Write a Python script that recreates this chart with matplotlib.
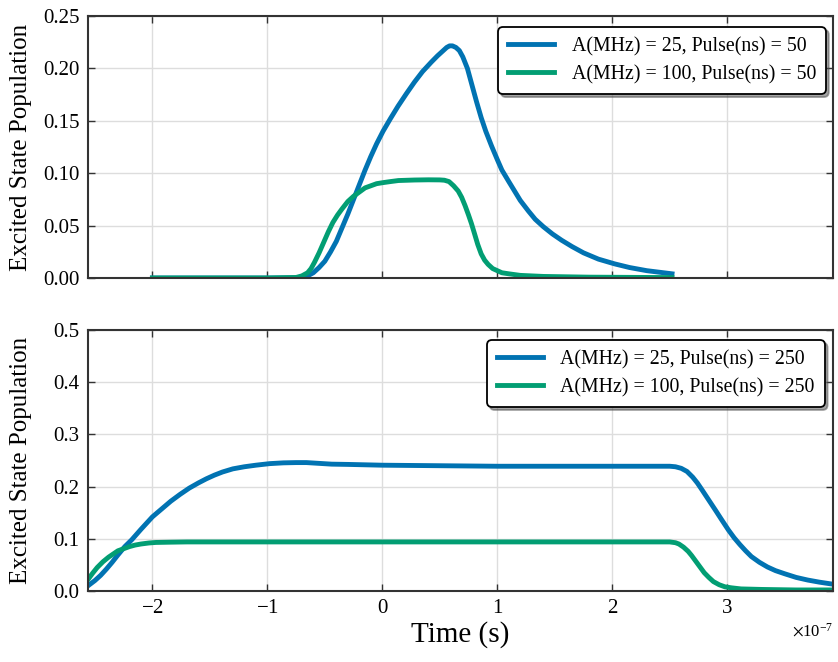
import matplotlib
matplotlib.use("Agg")
import matplotlib.pyplot as plt
import numpy as np

# time values in units of 1e-7 s
t_top_25 = [-2.0, -1.5, -1.0, -0.75, -0.7, -0.65, -0.6, -0.55, -0.5, -0.45, -0.4, -0.35, -0.3, -0.25, -0.2,
            -0.15, -0.1, -0.05, 0.006, 0.07, 0.137, 0.21, 0.28, 0.35, 0.426, 0.48, 0.53, 0.56, 0.585, 0.61,
            0.64, 0.67, 0.7, 0.74, 0.78, 0.82, 0.86, 0.9, 0.95, 1.0, 1.04, 1.1, 1.15, 1.2, 1.27, 1.33, 1.4,
            1.48, 1.56, 1.65, 1.75, 1.88, 2.02, 2.15, 2.3, 2.52]
p_top_25 = [0.0, 0.0, 0.0, 0.0002, 0.0005, 0.002, 0.005, 0.010, 0.016, 0.025, 0.035, 0.048, 0.061, 0.075, 0.089,
            0.103, 0.116, 0.128, 0.140, 0.152, 0.164, 0.176, 0.187, 0.197, 0.206, 0.212, 0.217, 0.220, 0.2215, 0.2215,
            0.220, 0.217, 0.211, 0.200, 0.184, 0.168, 0.153, 0.140, 0.126, 0.113, 0.103, 0.092, 0.083, 0.074, 0.064, 0.056, 0.049,
            0.042, 0.036, 0.030, 0.024, 0.018, 0.0135, 0.010, 0.007, 0.004]

t_top_100 = [-2.0, -1.5, -1.0, -0.75, -0.7, -0.65, -0.62, -0.59, -0.55, -0.51, -0.47, -0.43, -0.39, -0.35, -0.3,
             -0.25, -0.2, -0.15, -0.1, -0.05, 0.006, 0.07, 0.14, 0.28, 0.4, 0.5, 0.54, 0.58, 0.62, 0.66,
             0.69, 0.72, 0.75, 0.775, 0.8, 0.83, 0.86, 0.89, 0.92, 0.96, 1.0, 1.04, 1.1, 1.2, 1.4, 1.8, 2.52]
p_top_100 = [0.0, 0.0, 0.0, 0.0005, 0.002, 0.005, 0.009, 0.015, 0.024, 0.034, 0.044, 0.053, 0.060, 0.066, 0.073,
             0.078, 0.082, 0.086, 0.088, 0.090, 0.091, 0.092, 0.093, 0.0935, 0.0937, 0.0936, 0.0933, 0.092, 0.088, 0.083,
             0.077, 0.069, 0.060, 0.052, 0.043, 0.032, 0.023, 0.017, 0.013, 0.009, 0.007, 0.005, 0.004, 0.0025, 0.0015, 0.0008, 0.0004]

t_bot_25 = [-2.56, -2.5, -2.45, -2.4, -2.35, -2.3, -2.24, -2.18, -2.1, -2.05, -2.0, -1.92, -1.84, -1.76, -1.68,
            -1.6, -1.53, -1.46, -1.39, -1.3, -1.2, -1.1, -0.98, -0.86, -0.75, -0.66, -0.55, -0.44, -0.3, -0.2,
            0.0, 0.5, 1.0, 1.5, 2.0, 2.5, 2.55, 2.6, 2.65, 2.7, 2.74, 2.78, 2.84, 2.9, 2.95, 3.01, 3.06, 3.11,
            3.16, 3.21, 3.28, 3.35, 3.42, 3.5, 3.6, 3.7, 3.8, 3.92]
p_bot_25 = [0.010, 0.020, 0.030, 0.042, 0.055, 0.069, 0.085, 0.098, 0.118, 0.130, 0.142, 0.157, 0.172, 0.185, 0.197,
            0.207, 0.215, 0.222, 0.228, 0.234, 0.238, 0.241, 0.244, 0.2455, 0.246, 0.246, 0.2445, 0.243, 0.2425, 0.242,
            0.241, 0.240, 0.239, 0.239, 0.239, 0.239, 0.238, 0.235, 0.229, 0.218, 0.207, 0.194, 0.174, 0.154, 0.137, 0.117, 0.102, 0.089,
            0.077, 0.066, 0.055, 0.046, 0.039, 0.033, 0.026, 0.021, 0.017, 0.013]

t_bot_100 = [-2.56, -2.52, -2.48, -2.43, -2.38, -2.34, -2.3, -2.25, -2.2, -2.15, -2.1, -2.03, -1.97, -1.85, -1.7,
             -1.0, 0.0, 1.0, 2.0, 2.5, 2.55, 2.58, 2.62, 2.66, 2.69, 2.72, 2.76, 2.8, 2.84, 2.88, 2.93, 2.98,
             3.04, 3.12, 3.3, 3.6, 3.92]
p_bot_100 = [0.022, 0.034, 0.045, 0.056, 0.065, 0.071, 0.077, 0.081, 0.085, 0.088, 0.090, 0.092, 0.093, 0.0935, 0.094,
             0.094, 0.094, 0.094, 0.094, 0.094, 0.0925, 0.090, 0.084, 0.076, 0.068, 0.059, 0.047, 0.035, 0.026, 0.018, 0.012, 0.008,
             0.006, 0.004, 0.003, 0.002, 0.002]

labels_top = ["A(MHz) = 25, Pulse(ns) = 50", "A(MHz) = 100, Pulse(ns) = 50"]
labels_bot = ["A(MHz) = 25, Pulse(ns) = 250", "A(MHz) = 100, Pulse(ns) = 250"]

blue = "#0173B2"
green = "#029E73"

plt.rcParams["font.family"] = ["Liberation Serif", "DejaVu Serif"]
plt.rcParams["mathtext.fontset"] = "stix"
plt.rcParams["axes.unicode_minus"] = True

fig = plt.figure(figsize=(8.38, 6.62), dpi=100)
ax1 = fig.add_axes([88 / 838, 1 - 278 / 662, 745 / 838, 262 / 662])
ax2 = fig.add_axes([88 / 838, 1 - 591 / 662, 745 / 838, 261 / 662], sharex=ax1)

scale = 1e-7
ax1.plot(np.array(t_top_25) * scale, p_top_25, color=blue, lw=3.5, label=labels_top[0])
ax1.plot(np.array(t_top_100) * scale, p_top_100, color=green, lw=3.5, label=labels_top[1])
ax2.plot(np.array(t_bot_25) * scale, p_bot_25, color=blue, lw=3.5, label=labels_bot[0])
ax2.plot(np.array(t_bot_100) * scale, p_bot_100, color=green, lw=3.5, label=labels_bot[1])

ax1.set_ylim(0, 0.25)
ax1.set_yticks([0, 0.05, 0.10, 0.15, 0.20, 0.25])
ax1.set_yticklabels(["0.00", "0.05", "0.10", "0.15", "0.20", "0.25"])
ax2.set_ylim(0, 0.5)
ax2.set_yticks([0, 0.1, 0.2, 0.3, 0.4, 0.5])
ax2.set_yticklabels(["0.0", "0.1", "0.2", "0.3", "0.4", "0.5"])
ax2.set_xlim(-2.56e-7, 3.92e-7)
ax2.set_xticks(np.array([-2, -1, 0, 1, 2, 3]) * scale)
ax2.ticklabel_format(axis="x", style="sci", scilimits=(0, 0), useMathText=True)
plt.setp(ax1.get_xticklabels(), visible=False)
ax1.xaxis.get_offset_text().set_visible(False)

for ax in (ax1, ax2):
    ax.grid(True, color="#dddddd", lw=1.0)
    ax.set_axisbelow(True)
    ax.tick_params(direction="in", top=True, right=True, length=5, width=1.0,
                   labelsize=15, pad=6, colors="#333333", labelcolor="black")
    for s in ax.spines.values():
        s.set_linewidth(1.5)
        s.set_color("#333333")
    ax.set_ylabel("Excited State Population", fontsize=18)
    ax.yaxis.set_label_coords(-0.075, 0.5)

ax2.set_xlabel("Time (s)", fontsize=21, labelpad=2)
ax2.xaxis.get_offset_text().set_fontsize(12)

leg_kw = dict(loc="upper right", fontsize=14.3, frameon=True, shadow=True, fancybox=True,
              framealpha=1, edgecolor="black", handlelength=2.3, handletextpad=0.9,
              borderpad=0.5, labelspacing=0.45, borderaxespad=0)
l1 = ax1.legend(bbox_to_anchor=(0.9906, 0.958), **leg_kw)
l2 = ax2.legend(bbox_to_anchor=(0.989, 0.962), **leg_kw)
for l in (l1, l2):
    l.get_frame().set_linewidth(1.3)
    l.get_frame().set_boxstyle("round", pad=0.0, rounding_size=0.25)

fig.savefig("out.png", dpi=100)
